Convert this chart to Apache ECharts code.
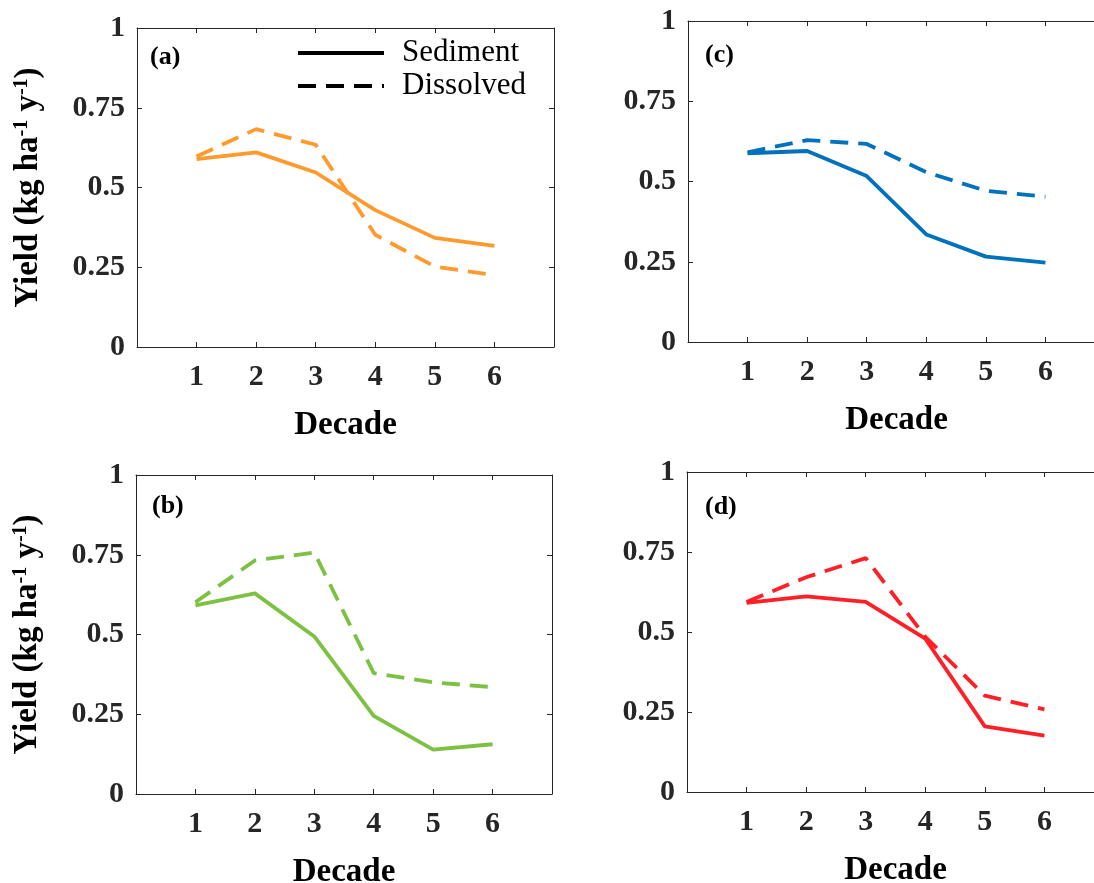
<!DOCTYPE html>
<html>
<head>
<meta charset="utf-8">
<title>Yield by decade</title>
<script src="https://cdn.jsdelivr.net/npm/echarts@6/dist/echarts.min.js"></script>
<style>
  html, body { margin: 0; padding: 0; background: #fff; }
  #chart { width: 1094px; height: 883px; }
</style>
</head>
<body>
<div id="chart"></div>
<script>
// Decades on the x axis and the tick values of the yield axis
const decades = [1, 2, 3, 4, 5, 6];
const yieldTicks = [0, 0.25, 0.5, 0.75, 1];

// Yield (kg ha-1 y-1) per panel: sediment-bound and dissolved
const sedimentA = [0.589, 0.610, 0.547, 0.429, 0.342, 0.317];
const dissolvedA = [0.597, 0.683, 0.634, 0.352, 0.252, 0.225];
const sedimentB = [0.591, 0.629, 0.494, 0.245, 0.139, 0.156];
const dissolvedB = [0.601, 0.732, 0.757, 0.379, 0.350, 0.335];
const sedimentC = [0.588, 0.595, 0.517, 0.335, 0.266, 0.247];
const dissolvedC = [0.591, 0.629, 0.617, 0.529, 0.471, 0.453];
const sedimentD = [0.591, 0.611, 0.594, 0.479, 0.205, 0.176];
const dissolvedD = [0.594, 0.671, 0.731, 0.485, 0.301, 0.258];

const panelLabels = ['(a)', '(b)', '(c)', '(d)'];
const seriesNames = ['Sediment', 'Dissolved'];

const FONT = '"Liberation Serif", "Times New Roman", serif';
const AXIS_COLOR = '#262626';
const DASH = [18, 10];
const LINE_W = 3.8;

// Panel layout: plot boxes, label positions, axis name placement
const panels = [
  { label: panelLabels[0], sed: sedimentA, dis: dissolvedA, color: '#FF9A2E',
    grid: { left: 137, top: 28, width: 417, height: 319 }, labelPos: { left: 150, top: 44 }, yName: true },
  { label: panelLabels[1], sed: sedimentB, dis: dissolvedB, color: '#7DC142',
    grid: { left: 136, top: 475, width: 416, height: 319 }, labelPos: { left: 152, top: 493 }, yName: true },
  { label: panelLabels[2], sed: sedimentC, dis: dissolvedC, color: '#0072BD',
    grid: { left: 688, top: 21, width: 417, height: 321 }, labelPos: { left: 705, top: 42 }, yName: false },
  { label: panelLabels[3], sed: sedimentD, dis: dissolvedD, color: '#FF1F26',
    grid: { left: 687, top: 472, width: 417, height: 320 }, labelPos: { left: 705, top: 494 }, yName: false }
];

const pairs = vals => decades.map((d, i) => [d, vals[i]]);

const grids = [], xAxes = [], yAxes = [], series = [], titles = [];

const boxAxis = () => ({
  axisLine: { show: true, onZero: false, lineStyle: { color: AXIS_COLOR, width: 1 } },
  axisTick: { show: true, inside: true, length: 5, lineStyle: { color: AXIS_COLOR, width: 1 } },
  splitLine: { show: false }
});

panels.forEach((p, i) => {
  grids.push(Object.assign({ containLabel: false, outerBoundsMode: 'none' }, p.grid));

  // bottom x axis with labels
  xAxes.push(Object.assign(boxAxis(), {
    type: 'value', gridIndex: i, position: 'bottom', min: 0, max: 7, interval: 1,
    axisLabel: {
      show: true, margin: 15, color: AXIS_COLOR, fontFamily: FONT, fontWeight: 'bold', fontSize: 30,
      formatter: v => (decades.indexOf(v) >= 0 ? String(v) : '')
    },
    name: 'Decade', nameLocation: 'middle', nameGap: 62,
    nameTextStyle: { color: '#000', fontFamily: FONT, fontWeight: 'bold', fontSize: 33 }
  }));
  // top mirror axis (box edge with inward ticks)
  xAxes.push(Object.assign(boxAxis(), {
    type: 'value', gridIndex: i, position: 'top', min: 0, max: 7, interval: 1,
    axisLabel: { show: false }
  }));

  // left y axis with labels
  const yMain = Object.assign(boxAxis(), {
    type: 'value', gridIndex: i, position: 'left',
    min: yieldTicks[0], max: yieldTicks[yieldTicks.length - 1], interval: yieldTicks[1] - yieldTicks[0],
    axisLabel: {
      show: true, margin: 12, color: AXIS_COLOR, fontFamily: FONT, fontWeight: 'bold', fontSize: 30,
      formatter: v => (yieldTicks.indexOf(v) >= 0 ? String(v) : '')
    }
  });
  if (p.yName) {
    Object.assign(yMain, {
      name: '{t|Yield (kg ha}{s|-1}{t| y}{s|-1}{t|)}',
      nameLocation: 'middle', nameGap: 92,
      nameTextStyle: {
        rich: {
          t: { color: '#000', fontFamily: FONT, fontWeight: 'bold', fontSize: 33 },
          s: { color: '#000', fontFamily: FONT, fontWeight: 'bold', fontSize: 20, verticalAlign: 'top' }
        }
      }
    });
  }
  yAxes.push(yMain);
  // right mirror axis
  yAxes.push(Object.assign(boxAxis(), {
    type: 'value', gridIndex: i, position: 'right',
    min: yieldTicks[0], max: yieldTicks[yieldTicks.length - 1], interval: yieldTicks[1] - yieldTicks[0],
    axisLabel: { show: false }
  }));

  series.push({
    name: seriesNames[0], type: 'line', xAxisIndex: 2 * i, yAxisIndex: 2 * i,
    data: pairs(p.sed), symbol: 'none', showSymbol: false, color: p.color,
    lineStyle: { color: p.color, width: LINE_W, type: 'solid', cap: 'butt' }, z: 3
  });
  series.push({
    name: seriesNames[1], type: 'line', xAxisIndex: 2 * i, yAxisIndex: 2 * i,
    data: pairs(p.dis), symbol: 'none', showSymbol: false, color: p.color,
    lineStyle: { color: p.color, width: LINE_W, type: DASH, cap: 'butt' }, z: 2
  });

  titles.push({
    text: p.label, left: p.labelPos.left, top: p.labelPos.top, padding: 0,
    textStyle: { color: '#000', fontFamily: FONT, fontWeight: 'bold', fontSize: 26 }
  });
});

const chart = echarts.init(document.getElementById('chart'), null, { renderer: 'canvas' });
chart.setOption({
  animation: false,
  backgroundColor: '#fff',
  title: titles,
  legend: {
    orient: 'vertical', left: 296, top: 37, padding: 0, itemGap: 1,
    itemWidth: 86, itemHeight: 14, selectedMode: false,
    data: [
      { name: seriesNames[0], lineStyle: { color: '#000', width: 4, type: 'solid' },
        itemStyle: { opacity: 0 } },
      { name: seriesNames[1], lineStyle: { color: '#000', width: 4, type: DASH },
        itemStyle: { opacity: 0 } }
    ],
    textStyle: { color: '#000', fontFamily: FONT, fontSize: 31, lineHeight: 32, padding: [0, 0, 0, 13] }
  },
  grid: grids,
  xAxis: xAxes,
  yAxis: yAxes,
  series: series
});
</script>
</body>
</html>
